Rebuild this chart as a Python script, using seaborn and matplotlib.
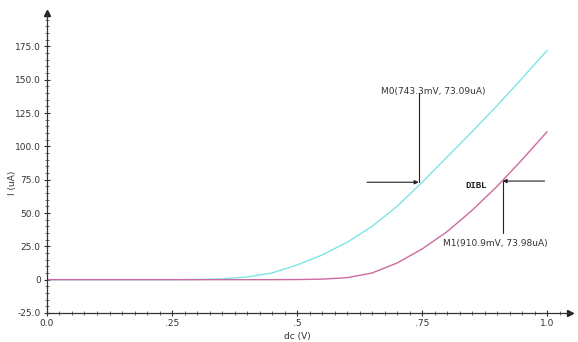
import numpy as np
import pandas as pd
import matplotlib
matplotlib.use("Agg")
import matplotlib.pyplot as plt
import seaborn as sns
from matplotlib.ticker import MultipleLocator, FixedLocator

# ---- data ----
vdc = [0.0, 0.25, 0.30, 0.35, 0.40, 0.45, 0.50, 0.55, 0.60, 0.65, 0.70, 0.75,
       0.80, 0.85, 0.90, 0.95, 1.00]
i_m0 = [0.0, 0.0, 0.1, 0.6, 2.0, 5.0, 11.0, 18.5, 28.0, 40.0, 55.0, 73.0,
        92.0, 111.0, 130.5, 151.0, 172.0]
i_m1 = [0.0, 0.0, 0.0, 0.0, 0.0, 0.0, 0.1, 0.4, 1.5, 5.0, 12.5, 23.0,
        36.0, 52.0, 70.0, 90.0, 111.0]

x_ticks = [0.0, 0.25, 0.5, 0.75, 1.0]
x_tick_labels = ["0.0", ".25", ".5", ".75", "1.0"]
y_ticks = [-25, 0, 25, 50, 75, 100, 125, 150, 175]
y_tick_labels = ["-25.0", "0", "25.0", "50.0", "75.0", "100.0", "125.0", "150.0", "175.0"]

m0_x, m0_y = 0.7433, 73.09
m1_x, m1_y = 0.9109, 73.98
m0_label = "M0(743.3mV, 73.09uA)"
m1_label = "M1(910.9mV, 73.98uA)"

df = pd.DataFrame({
    "dc": vdc * 2,
    "I": i_m0 + i_m1,
    "series": ["M0"] * len(vdc) + ["M1"] * len(vdc),
})

sns.set_style("white")
plt.rcParams["font.family"] = ["DejaVu Sans"]

fig = plt.figure(figsize=(5.78, 3.42), dpi=100)
ax = fig.add_axes([0.0813, 0.0848, 0.905, 0.877])

palette = {"M0": "#80e4e4", "M1": "#cc6aa0"}
sns.lineplot(data=df, x="dc", y="I", hue="series", palette=palette,
             linewidth=1.0, legend=False, ax=ax, estimator=None)

ax.set_xlim(0, 1.046)
ax.set_ylim(-25, 200)

ax.spines["top"].set_visible(False)
ax.spines["right"].set_visible(False)
for s in ("left", "bottom"):
    ax.spines[s].set_color("#333333")
    ax.spines[s].set_linewidth(0.9)

# arrow heads at axis ends
ax.plot(1, 0, ">", transform=ax.transAxes, color="#222222", markersize=4, clip_on=False)
ax.plot(0, 1, "^", transform=ax.transAxes, color="#222222", markersize=4, clip_on=False)

ax.xaxis.set_major_locator(FixedLocator(x_ticks))
ax.set_xticklabels(x_tick_labels)
ax.yaxis.set_major_locator(FixedLocator(y_ticks))
ax.set_yticklabels(y_tick_labels)
ax.xaxis.set_minor_locator(MultipleLocator(0.025))
ax.yaxis.set_minor_locator(MultipleLocator(5))
ax.tick_params(which="major", direction="inout", length=5, width=0.8, color="#333333",
               labelsize=6.5, labelcolor="#333333", pad=2)
ax.tick_params(which="minor", direction="inout", length=3, width=0.6, color="#555555")
ax.tick_params(axis="x", which="both", bottom=True)
ax.tick_params(axis="y", which="both", left=True)

ax.set_xlabel("dc (V)", fontsize=6.5, color="#333333")
ax.set_ylabel("I (uA)", fontsize=6.5, color="#333333")
ax.xaxis.set_label_coords(0.478, -0.065)
ax.yaxis.set_label_coords(-0.057, 0.435)

# markers
lc = "#222222"
ax.plot([m0_x, m0_x], [m0_y, 140], color=lc, linewidth=0.8)
ax.annotate("", xy=(m0_x, m0_y), xytext=(0.64, m0_y),
            arrowprops=dict(arrowstyle="-|>", color=lc, lw=0.8, mutation_scale=6,
                            shrinkA=0, shrinkB=0))
ax.text(0.668, 141, m0_label, fontsize=6.5, color="#333333", va="center", ha="left")

ax.plot([m1_x, m1_x], [m1_y, 35], color=lc, linewidth=0.8)
ax.annotate("", xy=(m1_x, m1_y), xytext=(0.995, m1_y),
            arrowprops=dict(arrowstyle="-|>", color=lc, lw=0.8, mutation_scale=6,
                            shrinkA=0, shrinkB=0))
ax.text(0.792, 27, m1_label, fontsize=6.5, color="#333333", va="center", ha="left")
ax.text(0.836, 70.5, "DIBL", fontsize=6.5, color="#222222", va="center", ha="left",
        family="Liberation Mono", fontweight="bold")

fig.savefig("out.png", dpi=100, facecolor="white")
